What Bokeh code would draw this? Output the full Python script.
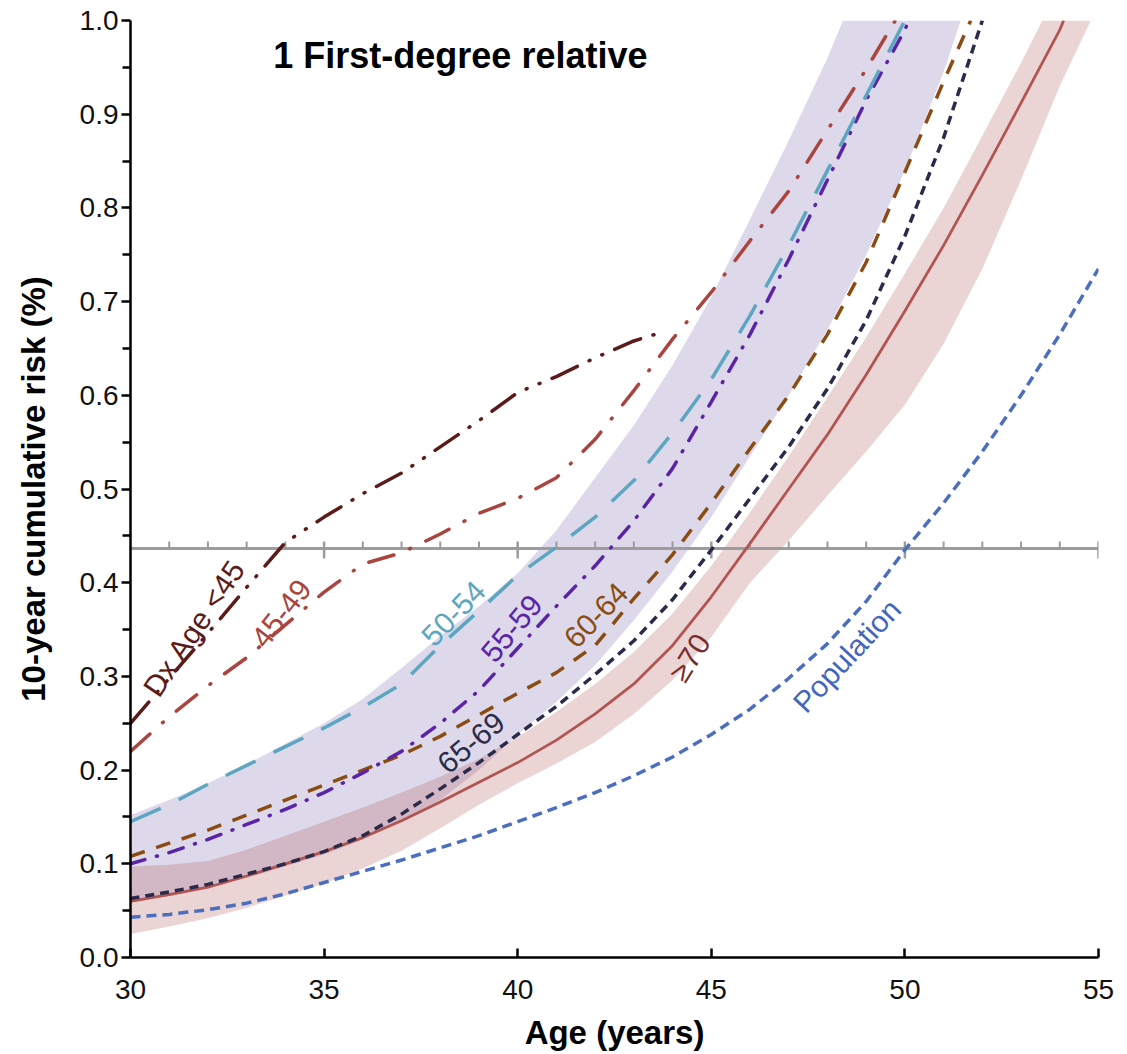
import math
from bokeh.plotting import figure
from bokeh.models import Range1d, FixedTicker, PrintfTickFormatter, Label, ColumnDataSource
from bokeh.core.properties import value
from bokeh.embed import file_html
from bokeh.resources import INLINE

# ---------------- data ----------------
dx45_age = [30, 31, 32, 33, 34, 35, 36, 37, 38, 39, 40, 41, 42, 43, 43.7]
dx45_risk = [0.25, 0.298, 0.346, 0.395, 0.443, 0.47, 0.495, 0.517, 0.545, 0.573, 0.603, 0.62, 0.64, 0.658, 0.667]

r4549_age = list(range(30, 50)) + [49.75]
r4549_risk = [0.22, 0.257, 0.29, 0.32, 0.355, 0.39, 0.42, 0.432, 0.452, 0.474, 0.49, 0.512, 0.553, 0.605,
              0.66, 0.71, 0.765, 0.818, 0.883, 0.948, 1.0]

r5054_age = list(range(30, 51))
r5054_risk = [0.145, 0.163, 0.185, 0.205, 0.225, 0.245, 0.267, 0.292, 0.333, 0.37, 0.408, 0.438, 0.47, 0.509,
              0.56, 0.617, 0.685, 0.76, 0.84, 0.92, 1.0]

r5559_age = list(range(30, 51)) + [50.1]
r5559_risk = [0.10, 0.112, 0.126, 0.142, 0.158, 0.176, 0.197, 0.22, 0.25, 0.285, 0.33, 0.375, 0.418, 0.466,
              0.522, 0.593, 0.665, 0.745, 0.83, 0.915, 0.99, 1.0]

r6064_age = list(range(30, 52)) + [51.7]
r6064_risk = [0.108, 0.122, 0.136, 0.152, 0.168, 0.184, 0.2, 0.216, 0.236, 0.259, 0.282, 0.304, 0.333, 0.383,
              0.43, 0.485, 0.543, 0.60, 0.665, 0.742, 0.838, 0.935, 1.0]

r6569_age = list(range(30, 53))
r6569_risk = [0.063, 0.07, 0.078, 0.089, 0.10, 0.113, 0.13, 0.153, 0.18, 0.208, 0.238, 0.268, 0.302, 0.338,
              0.382, 0.435, 0.49, 0.545, 0.607, 0.68, 0.77, 0.875, 1.0]

r70_age = list(range(30, 55)) + [54.1]
r70_risk = [0.06, 0.067, 0.075, 0.087, 0.10, 0.113, 0.128, 0.146, 0.166, 0.187, 0.208, 0.232, 0.26, 0.292,
            0.333, 0.385, 0.442, 0.50, 0.558, 0.622, 0.69, 0.76, 0.835, 0.912, 0.99, 1.0]

pop_age = list(range(30, 56))
pop_risk = [0.043, 0.046, 0.051, 0.058, 0.068, 0.08, 0.092, 0.104, 0.117, 0.13, 0.145, 0.16, 0.176, 0.194,
            0.214, 0.238, 0.265, 0.298, 0.335, 0.38, 0.435, 0.485, 0.54, 0.6, 0.665, 0.735]

# confidence bands
r70_ci_up_age = list(range(30, 54)) + [53.55]
r70_ci_up = [0.097, 0.099, 0.103, 0.115, 0.13, 0.145, 0.16, 0.176, 0.193, 0.212, 0.235, 0.262, 0.292, 0.326,
             0.367, 0.418, 0.475, 0.535, 0.598, 0.662, 0.73, 0.80, 0.877, 0.955, 1.0]
r70_ci_lo_age = list(range(30, 55)) + [54.8]
r70_ci_lo = [0.025, 0.033, 0.042, 0.053, 0.066, 0.079, 0.095, 0.114, 0.138, 0.163, 0.186, 0.207, 0.23, 0.26,
             0.296, 0.342, 0.40, 0.445, 0.493, 0.54, 0.59, 0.655, 0.735, 0.83, 0.93, 1.0]

band_up_age = list(range(30, 49)) + [48.4]
band_up = [0.152, 0.168, 0.186, 0.206, 0.228, 0.25, 0.276, 0.309, 0.343, 0.375, 0.41, 0.456, 0.512, 0.568,
           0.632, 0.705, 0.788, 0.872, 0.96, 1.0]
band_lo_age = list(range(30, 52)) + [51.44]
band_lo = [0.06, 0.066, 0.074, 0.085, 0.097, 0.11, 0.126, 0.145, 0.168, 0.2, 0.238, 0.273, 0.312, 0.36,
           0.412, 0.47, 0.535, 0.6, 0.67, 0.75, 0.84, 0.945, 1.0]

threshold = 0.4365            # population risk at age 50 (grey reference line)
thr_minor_ticks = [31, 32, 33, 34, 36, 37, 38, 39, 41, 42, 43, 44, 46, 47, 48, 49, 51, 52, 53, 54]
thr_major_ticks = [35, 40, 45, 50, 55]

x_ticks = [30, 35, 40, 45, 50, 55]
y_ticks = [0.0, 0.1, 0.2, 0.3, 0.4, 0.5, 0.6, 0.7, 0.8, 0.9, 1.0]
y_minor = [0.05, 0.15, 0.25, 0.35, 0.45, 0.55, 0.65, 0.75, 0.85, 0.95]

labels = ["Dx Age <45", "45-49", "50-54", "55-59", "60-64", "65-69", "\u226570", "Population"]
label_age = [31.65, 33.9, 38.35, 39.85, 42.03, 38.8, 44.44, 48.5]
label_risk = [0.352, 0.367, 0.367, 0.351, 0.365, 0.229, 0.32, 0.322]
label_angle = [56, 52, 46, 50, 46, 40, 58, 47]

title_text = "1 First-degree relative"

# ---------------- styling ----------------
C_DX = "#5B1B1B"
C_4549 = "#A9443E"
C_5054 = "#5CA6C1"
C_5559 = "#5B23A6"
C_6064 = "#8A4C12"
C_6569 = "#2C2A4A"
C_70 = "#B15552"
C_POP = "#4C6EBF"
label_colors = [C_DX, C_4549, C_5054, C_5559, C_6064, C_6569, "#7A2B2B", "#4466BB"]
FONT = "Liberation Sans"

p = figure(frame_width=968, frame_height=937,
           x_range=Range1d(30, 55), y_range=Range1d(0, 1),
           output_backend="svg", toolbar_location=None,
           min_border_left=130, min_border_top=20, min_border_right=21, min_border_bottom=94)
p.outline_line_color = None
p.xgrid.grid_line_color = None
p.ygrid.grid_line_color = None
p.background_fill_color = "white"
p.border_fill_color = "white"

# bands
p.patch(band_up_age + band_lo_age[::-1], band_up + band_lo[::-1],
        fill_color="#7D6DB3", fill_alpha=0.26, line_color=None)
p.patch(r70_ci_up_age + r70_ci_lo_age[::-1], r70_ci_up + r70_ci_lo[::-1],
        fill_color="#B35A58", fill_alpha=0.26, line_color=None)

# grey reference line with ticks
px = 1.0 / 937.0
p.line([30, 55], [threshold, threshold], line_color="#9C9C9C", line_width=3)
p.segment(x0=thr_minor_ticks, y0=[threshold] * len(thr_minor_ticks),
          x1=thr_minor_ticks, y1=[threshold + 7 * px] * len(thr_minor_ticks),
          line_color="#9C9C9C", line_width=2)
p.segment(x0=thr_major_ticks, y0=[threshold - 10 * px] * len(thr_major_ticks),
          x1=thr_major_ticks, y1=[threshold + 7 * px] * len(thr_major_ticks),
          line_color="#9C9C9C", line_width=2.5)

# curves
p.line(pop_age, pop_risk, line_color=C_POP, line_width=3.5, line_dash="10 6")
p.line(r70_age, r70_risk, line_color=C_70, line_width=2.8)
p.line(r6569_age, r6569_risk, line_color=C_6569, line_width=3.5, line_dash="9 6")
p.line(r6064_age, r6064_risk, line_color=C_6064, line_width=3.5, line_dash="15 12")
p.line(r5559_age, r5559_risk, line_color=C_5559, line_width=3.5, line_dash="15 12 1 12", line_cap="round")
p.line(r5054_age, r5054_risk, line_color=C_5054, line_width=3.5, line_dash="33 20")
p.line(r4549_age, r4549_risk, line_color=C_4549, line_width=3.5, line_dash="26 17 1 17", line_cap="round")
p.line(dx45_age, dx45_risk, line_color=C_DX, line_width=3.5, line_dash="28 13 1 13 1 13", line_cap="round")

# curve labels
src = ColumnDataSource(dict(x=label_age, y=label_risk, text=labels,
                            angle=[math.radians(a) for a in label_angle], color=label_colors))
p.text(x="x", y="y", text="text", angle="angle", source=src, text_color="color",
       text_font=value(FONT), text_font_size=value("30px"),
       text_align="center", text_baseline="middle")

# title inside plot
p.add_layout(Label(x=38.52, y=0.963, text=title_text, text_align="center", text_baseline="middle",
                   text_font=FONT, text_font_style="bold", text_font_size="36px", text_color="black"))

# axes
xa = p.xaxis[0]
xa.ticker = FixedTicker(ticks=x_ticks)
xa.major_tick_in = 9
xa.major_tick_out = 0
xa.minor_tick_line_color = None
xa.axis_line_width = 2.5
xa.major_tick_line_width = 2.5
xa.axis_line_color = "black"
xa.major_tick_line_color = "black"
xa.major_label_text_font = FONT
xa.major_label_text_font_size = "28px"
xa.major_label_text_color = "#111111"
xa.major_label_standoff = 22
xa.axis_label = "Age (years)"
xa.axis_label_text_font = FONT
xa.axis_label_text_font_style = "bold"
xa.axis_label_text_font_size = "33px"
xa.axis_label_text_color = "black"
xa.axis_label_standoff = 12

ya = p.yaxis[0]
ya.ticker = FixedTicker(ticks=y_ticks, minor_ticks=y_minor)
ya.formatter = PrintfTickFormatter(format="%.1f")
ya.major_tick_in = 0
ya.major_tick_out = 9
ya.minor_tick_in = 0
ya.minor_tick_out = 8
ya.axis_line_width = 2.5
ya.major_tick_line_width = 2.5
ya.minor_tick_line_width = 2.5
ya.axis_line_color = "black"
ya.major_tick_line_color = "black"
ya.minor_tick_line_color = "black"
ya.major_label_text_font = FONT
ya.major_label_text_font_size = "28px"
ya.major_label_text_color = "#111111"
ya.major_label_standoff = 3
ya.axis_label = "10-year cumulative risk (%)"
ya.axis_label_text_font = FONT
ya.axis_label_text_font_style = "bold"
ya.axis_label_text_font_size = "33px"
ya.axis_label_text_color = "black"
ya.axis_label_standoff = 25

open("out.html", "w").write(file_html(p, INLINE))
